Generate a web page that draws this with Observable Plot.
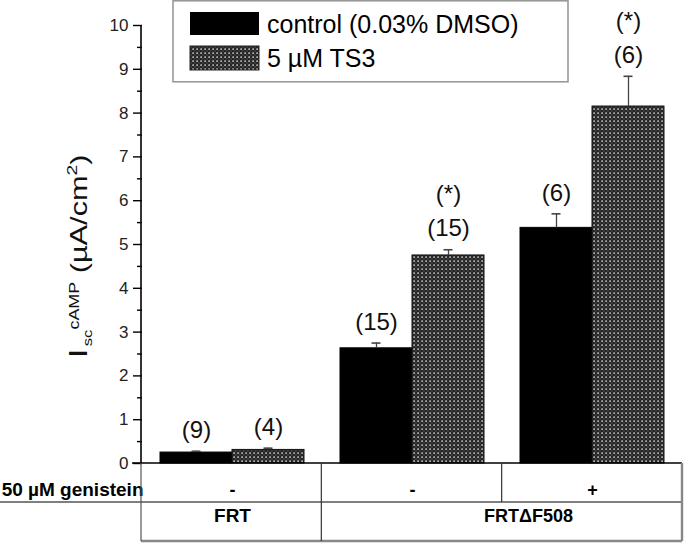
<!DOCTYPE html>
<html><head><meta charset="utf-8">
<script src="https://cdn.jsdelivr.net/npm/d3@7"></script>
<script src="https://cdn.jsdelivr.net/npm/@observablehq/plot@0.6"></script>
<style>body{margin:0;background:#fff;}</style>
</head><body><div id="chart"></div>
<script>
// ---- data ----
const groups = ["FRT −", "FRTΔF508 −", "FRTΔF508 +"];
const treatments = ["control (0.03% DMSO)", "5 µM TS3"];
const controlMean = [0.25, 2.63, 5.38];
const controlSE = [0.03, 0.12, 0.32];
const controlN = ["(9)", "(15)", "(6)"];
const ts3Mean = [0.31, 4.75, 8.15];
const ts3SE = [0.04, 0.13, 0.69];
const ts3N = ["(4)", "(15)", "(6)"];
const ts3Sig = ["", "(*)", "(*)"];
const genistein = ["-", "-", "+"];
const cellLines = ["FRT", "FRTΔF508"];
const rowLabel = "50 µM genistein";
const yTicks = [0, 1, 2, 3, 4, 5, 6, 7, 8, 9, 10];
const yMinorTicks = [0.5, 1.5, 2.5, 3.5, 4.5, 5.5, 6.5, 7.5, 8.5, 9.5];

const rows = [];
groups.forEach((g, i) => {
  rows.push({group: g, treat: treatments[0], mean: controlMean[i], top: controlMean[i] + controlSE[i], n: controlN[i], sig: ""});
  rows.push({group: g, treat: treatments[1], mean: ts3Mean[i], top: ts3Mean[i] + ts3SE[i], n: ts3N[i], sig: ts3Sig[i]});
});
const ctrlRows = rows.filter(d => d.treat === treatments[0]);
const ts3Rows = rows.filter(d => d.treat === treatments[1]);
const genRows = groups.map((g, i) => ({group: g, text: genistein[i]}));
const rowLabelRows = [{group: groups[0], text: rowLabel}];
const cell1Rows = [{group: groups[0], text: cellLines[0]}];
const cell2Rows = [{group: groups[1], text: cellLines[1]}];

const FONT = "'Liberation Sans', Arial, Helvetica, sans-serif";

const plot = Plot.plot({
  width: 685, height: 544,
  marginLeft: 141, marginRight: 3, marginTop: 25, marginBottom: 81,
  style: {fontFamily: FONT, fontSize: "16px", color: "black", background: "white", overflow: "visible"},
  fx: {domain: groups, padding: 0, axis: null, label: null},
  x: {domain: treatments, paddingInner: 0, paddingOuter: 0.233, axis: null, label: null},
  y: {domain: [0, 10], label: null},
  marks: [
    Plot.barY(ctrlRows, {fx: "group", x: "treat", y: "mean", fill: "black", stroke: "black", strokeWidth: 1}),
    Plot.barY(ts3Rows, {fx: "group", x: "treat", y: "mean", fill: "url(#ts3pat)", stroke: "#111", strokeWidth: 1}),
    Plot.ruleX(rows, {fx: "group", x: "treat", y1: "mean", y2: "top", stroke: "#444", strokeWidth: 1.3}),
    Plot.tickY(rows, {fx: "group", x: "treat", y: "top", insetLeft: 31.5, insetRight: 31.5, stroke: "#444", strokeWidth: 1.6}),
    Plot.text(rows, {fx: "group", x: "treat", y: "top", text: "n", dy: -21, fontSize: 24, fill: "#111"}),
    Plot.text(rows, {fx: "group", x: "treat", y: "top", text: "sig", dy: -55, fontSize: 24, fill: "#111"}),
    Plot.axisY(yTicks, {tickSize: 9, tickPadding: 5, fontSize: 17, label: null, strokeWidth: 1.4, fill: "#222"}),
    Plot.axisY(yMinorTicks, {tickSize: 5, text: null, label: null, strokeWidth: 1.4}),
    // table row texts
    Plot.text(genRows, {fx: "group", frameAnchor: "bottom", dy: 32, text: "text", fontSize: 18, fontWeight: "bold"}),
    Plot.text(rowLabelRows, {fx: "group", frameAnchor: "bottom-left", textAnchor: "end", dy: 32, dx: 1, text: "text", fontSize: 19, fontWeight: "bold"}),
    Plot.text(cell1Rows, {fx: "group", frameAnchor: "bottom", dy: 58, text: "text", fontSize: 19, fontWeight: "bold"}),
    Plot.text(cell2Rows, {fx: "group", frameAnchor: "bottom-right", textAnchor: "middle", dx: 26, dy: 58, text: "text", fontSize: 18, fontWeight: "bold"})
  ]
});

document.getElementById("chart").appendChild(plot);

const svg = d3.select(plot);
// pattern for TS3 bars
const defs = svg.insert("defs", ":first-child");
const pat = defs.append("pattern").attr("id", "ts3pat").attr("patternUnits", "userSpaceOnUse")
  .attr("width", 4).attr("height", 4);
pat.append("rect").attr("width", 4).attr("height", 4).attr("fill", "#262626");
pat.append("rect").attr("x", 0.4).attr("y", 0.4).attr("width", 1.4).attr("height", 1.4).attr("fill", "#f4f4f4");
pat.append("rect").attr("x", 2.4).attr("y", 2.4).attr("width", 1.1).attr("height", 1.1).attr("fill", "#6a6a6a");

// scales from the plot
const ys = plot.scale("y"), fxs = plot.scale("fx");
const Y = d3.scaleLinear(ys.domain, ys.range);
const FX = d3.scaleBand(fxs.domain, fxs.range)
  .paddingInner(fxs.paddingInner ?? 0).paddingOuter(fxs.paddingOuter ?? 0).align(fxs.align ?? 0.5);
const xL = FX.range()[0], xR = FX.range()[1];
const y0 = Y(0), yTop = Y(10), yMid = y0 + 39, yBot = y0 + 78;
const xA = FX(groups[1]), xB = FX(groups[2]);

const g = svg.append("g").attr("fill", "none");
// y axis line
g.append("line").attr("x1", xL).attr("x2", xL).attr("y1", yTop).attr("y2", y0).attr("stroke", "black").attr("stroke-width", 1.6);
// table
g.append("line").attr("x1", xL - 9).attr("x2", xR).attr("y1", y0).attr("y2", y0).attr("stroke", "black").attr("stroke-width", 1.6);
g.append("line").attr("x1", 0).attr("x2", xR).attr("y1", yMid).attr("y2", yMid).attr("stroke", "#555").attr("stroke-width", 1.3);
g.append("line").attr("x1", xL).attr("x2", xR).attr("y1", yBot).attr("y2", yBot).attr("stroke", "#888").attr("stroke-width", 2.6);
g.append("line").attr("x1", xL).attr("x2", xL).attr("y1", y0).attr("y2", yBot).attr("stroke", "#555").attr("stroke-width", 1.2);
g.append("line").attr("x1", xA).attr("x2", xA).attr("y1", y0).attr("y2", yBot).attr("stroke", "#333").attr("stroke-width", 1.2);
g.append("line").attr("x1", xB).attr("x2", xB).attr("y1", y0).attr("y2", yMid).attr("stroke", "#333").attr("stroke-width", 1.2);
g.append("line").attr("x1", xR).attr("x2", xR).attr("y1", y0).attr("y2", yBot).attr("stroke", "#888").attr("stroke-width", 2.4);

// legend
const lg = svg.append("g").attr("font-family", FONT).attr("text-anchor", "start");
lg.append("rect").attr("x", 173).attr("y", 0.8).attr("width", 395).attr("height", 81)
  .attr("fill", "white").attr("stroke", "#999").attr("stroke-width", 1.6);
lg.append("rect").attr("x", 190).attr("y", 12).attr("width", 69).attr("height", 23).attr("fill", "black");
lg.append("rect").attr("x", 190).attr("y", 46).attr("width", 69).attr("height", 24).attr("fill", "url(#ts3pat)").attr("stroke", "#222");
lg.append("text").attr("x", 267).attr("y", 33).attr("font-size", 25).attr("fill", "black").text(treatments[0]);
lg.append("text").attr("x", 267).attr("y", 67).attr("font-size", 25).attr("fill", "black").text(treatments[1]);

// y axis label (stretched along its reading direction like the original)
const yl = svg.append("text").attr("transform", "translate(87,358) rotate(-90) scale(1.28,1)").attr("text-anchor", "start")
  .attr("font-family", FONT).attr("font-size", 24).attr("fill", "#111");
yl.append("tspan").attr("font-size", 26).text("I");
yl.append("tspan").attr("font-size", 13).attr("dy", 5).attr("dx", 2).text("sc");
yl.append("tspan").attr("font-size", 14).attr("dy", -13).text("cAMP");
yl.append("tspan").attr("dy", 8).text(" (µA/cm");
yl.append("tspan").attr("font-size", 15).attr("dy", -10).text("2");
yl.append("tspan").attr("dy", 10).text(")");
</script>
</body></html>
